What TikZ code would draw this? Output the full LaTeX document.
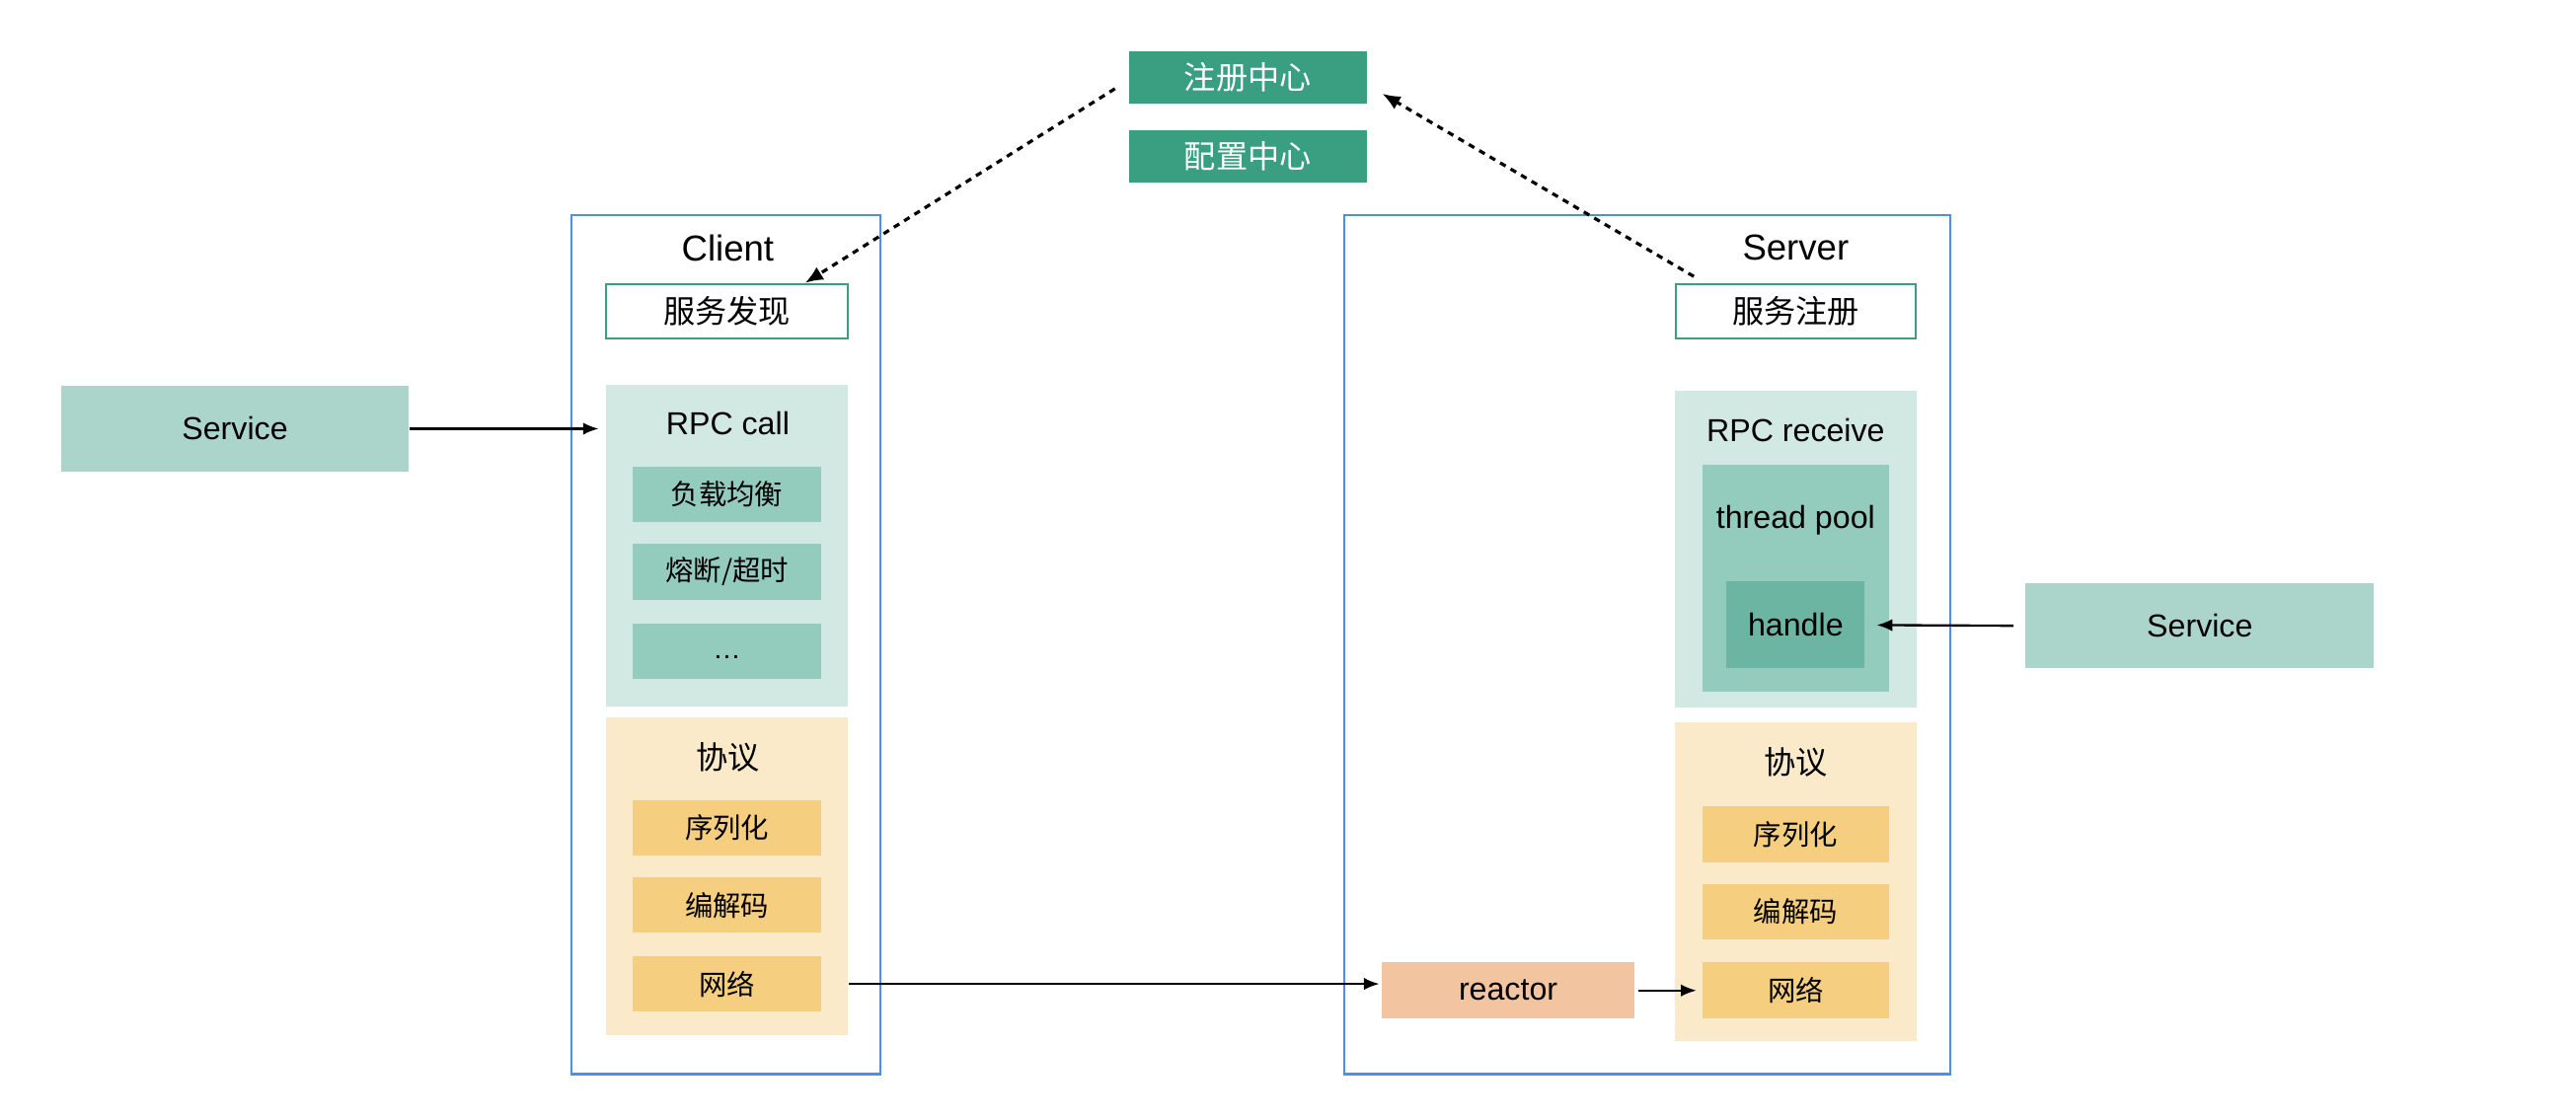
\documentclass[tikz,border=0pt]{standalone}
\usepackage{fontspec}
\setmainfont{Liberation Sans}
\newfontfamily\cjk{Noto Sans CJK SC}
\usetikzlibrary{arrows.meta}
\definecolor{hubgreen}{HTML}{3A9E80}
\definecolor{frameblue}{HTML}{4990E8}
\definecolor{svcgreen}{HTML}{ABD5CB}
\definecolor{panelgreen}{HTML}{D2E8E2}
\definecolor{itemgreen}{HTML}{93CBBC}
\definecolor{handlegreen}{HTML}{6BB5A2}
\definecolor{panelyellow}{HTML}{FAEACA}
\definecolor{itemyellow}{HTML}{F6CE80}
\definecolor{reactororange}{HTML}{F2C4A0}
\tikzset{
  base/.style={rectangle, inner sep=0pt, font=\fontsize{11}{13}\selectfont},
  hub/.style={base, fill=hubgreen, text=white, minimum width=2.9cm, minimum height=0.64cm, font=\cjk\fontsize{11}{13}\selectfont},
  frame/.style={rectangle, draw=frameblue, line width=0.8pt, minimum height=10.46cm},
  title/.style={base, font=\fontsize{12.5}{15}\selectfont},
  outline/.style={base, draw=hubgreen, line width=0.8pt, minimum height=0.66cm, font=\cjk\fontsize{11}{13}\selectfont},
  svc/.style={base, fill=svcgreen, minimum width=4.24cm, minimum height=1.04cm},
  panel/.style={base, minimum width=2.95cm},
  item/.style={base, minimum width=2.3cm, minimum height=0.68cm, font=\cjk\fontsize{9.7}{12}\selectfont},
  link/.style={-{Latex[length=1.9mm,width=1.5mm]}, line width=0.8pt},
  dashlink/.style={-{Latex[length=2.2mm,width=1.8mm]}, line width=1.1pt, dash pattern=on 2.2pt off 2pt}
}
\begin{document}
\begin{tikzpicture}[x=0.02cm, y=-0.02cm]
\useasboundingbox (0,0) rectangle (1568,681.25);
% Centres
\node (reg) [hub] at (759.5,47) {注册中心};
\node (conf) [hub] at (759.5,95) {配置中心};

% Client side
\node (client) [frame, minimum width=3.76cm] at (442,392.5) {};
\node (clientlabel) [title] at (443,151) {Client};
\node (discover) [outline, minimum width=2.94cm] at (442.5,189.5) {服务发现};
\node (svcL) [svc] at (143,261) {Service};
\node (rpccall) [panel, fill=panelgreen, minimum height=3.92cm] at (442.5,332) {};
\node (rpccalllabel) [base] at (443,258) {RPC call};
\node (lb) [item, fill=itemgreen] at (442.5,301) {负载均衡};
\node (fuse) [item, fill=itemgreen] at (442.5,348) {熔断/超时};
\node (more) [item, fill=itemgreen, font=\fontsize{9.7}{12}\selectfont] at (442.5,396.5) {\strut…};
\node (protoc) [panel, fill=panelyellow, minimum height=3.86cm] at (442.5,533.5) {};
\node (protoclabel) [base, font=\cjk\fontsize{11}{13}\selectfont] at (443,461) {协议};
\node (serc) [item, fill=itemyellow] at (442.5,504) {序列化};
\node (codc) [item, fill=itemyellow] at (442.5,551) {编解码};
\node (netc) [item, fill=itemyellow] at (442.5,599) {网络};

% Server side
\node (server) [frame, minimum width=7.38cm] at (1002.5,392.5) {};
\node (serverlabel) [title] at (1093,151) {Server};
\node (register) [outline, minimum width=2.92cm] at (1093,189.5) {服务注册};
\node (rpcrecv) [panel, fill=panelgreen, minimum height=3.86cm] at (1093,334.5) {};
\node (rpcrecvlabel) [base] at (1093,262) {RPC receive};
\node (pool) [base, fill=itemgreen, minimum width=2.28cm, minimum height=2.76cm] at (1093,352) {};
\node (poollabel) [base] at (1093,317) {thread pool};
\node (handle) [base, fill=handlegreen, minimum width=1.68cm, minimum height=1.06cm] at (1093,380.5) {handle};
\node (svcR) [svc] at (1339,381) {Service};
\node (protos) [panel, fill=panelyellow, minimum height=3.88cm] at (1093,537) {};
\node (protoslabel) [base, font=\cjk\fontsize{11}{13}\selectfont] at (1093,464) {协议};
\node (sers) [item, fill=itemyellow, minimum width=2.28cm] at (1093,508) {序列化};
\node (cods) [item, fill=itemyellow, minimum width=2.28cm] at (1093,555) {编解码};
\node (nets) [item, fill=itemyellow, minimum width=2.28cm] at (1093,603) {网络};
\node (reactor) [base, fill=reactororange, minimum width=3.08cm, minimum height=0.68cm] at (918,603) {reactor};

% Arrows
\draw[dashlink] ([xshift=-0.16cm,yshift=-0.14cm]reg.west) -- ([xshift=0.95cm]discover.north);
\draw[dashlink] ([xshift=-1.24cm,yshift=0.08cm]register.north) -- ([xshift=0.18cm,yshift=-0.2cm]reg.east);
\draw[link, shorten >=0.08cm] (svcL.east) -- (svcL.east -| rpccall.west);
\draw[link, shorten >=0.02cm] (netc -| protoc.east) -- (netc -| reactor.west);
\draw[link, shorten <=0.04cm, shorten >=0.06cm] (reactor.east) -- (nets.west);
\draw[link, shorten <=0.14cm, shorten >=0.14cm] (svcR.west) -- (handle.east);
\end{tikzpicture}
\end{document}
